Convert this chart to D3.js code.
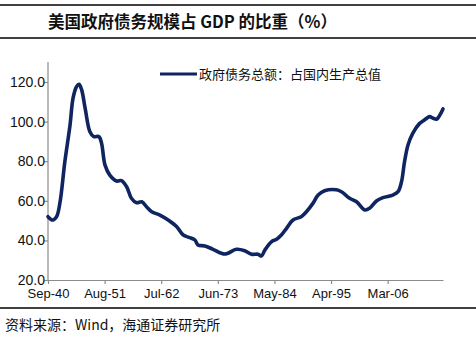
<!DOCTYPE html>
<html>
<head>
<meta charset="utf-8">
<script src="https://cdn.jsdelivr.net/npm/d3@7"></script>
<style>
  html, body { margin: 0; padding: 0; background: #fff; }
  svg { display: block; }
</style>
</head>
<body>
<svg id="chart" width="476" height="337"></svg>
<script>
// ---- data ----
const titleText = "美国政府债务规模占 GDP 的比重（%）";
const legendText = "政府债务总额：占国内生产总值";
const sourceText = "资料来源：Wind，海通证券研究所";

const dates = [
  "1940-09","1941-08","1942-05","1943-01","1943-12","1944-12","1945-07","1946-03","1946-09","1947-03",
  "1947-11","1948-10","1949-07","1950-07","1951-01","1951-09","1952-08","1953-12","1954-11","1955-11",
  "1956-10","1957-10","1958-10","1959-09","1960-09","1962-04","1963-11","1965-07","1966-10","1968-01",
  "1969-01","1969-08","1970-12","1972-07","1974-10","1977-01","1978-08","1979-12","1981-03","1981-11",
  "1982-07","1983-10","1984-10","1985-09","1986-09","1987-12","1989-07","1990-07","1991-10","1992-10",
  "1994-01","1996-04","1997-04","1998-11","2000-03","2001-10","2002-09","2004-01","2005-04","2007-03",
  "2008-03","2008-11","2009-06","2010-02","2011-01","2012-05","2013-04","2014-04","2014-12","2015-09",
  "2016-03","2016-11"
];
const debtToGdp = [
  52.0, 50.3, 52.0, 59.5, 79.7, 98.3, 111.8, 117.6, 118.8, 116.0,
  106.7, 94.9, 92.4, 92.4, 89.0, 78.0, 73.0, 70.0, 70.2, 67.1,
  61.3, 59.0, 59.5, 57.0, 54.5, 52.8, 50.3, 46.9, 42.7, 41.4,
  40.2, 37.7, 37.2, 35.5, 33.1, 35.5, 34.8, 33.0, 33.0, 32.1,
  35.2, 39.3, 40.6, 42.7, 46.1, 50.3, 52.0, 54.5, 58.7, 62.9,
  65.1, 65.6, 64.6, 61.3, 59.5, 55.4, 56.2, 59.9, 61.6, 62.9,
  64.6, 69.6, 79.7, 88.2, 94.1, 99.1, 100.8, 102.5, 101.7, 101.3,
  103.0, 106.4
];
const xTickLabels = ["Sep-40","Aug-51","Jul-62","Jun-73","May-84","Apr-95","Mar-06"];
const yTickValues = [20, 40, 60, 80, 100, 120];

// ---- drawing ----
const svg = d3.select("#chart");
const parseYM = d3.timeParse("%Y-%m");
const parseTick = d3.timeParse("%b-%y");
const fmtTick = d3.timeFormat("%b-%y");
const data = dates.map((d, i) => ({ date: parseYM(d), value: debtToGdp[i] }));
const tickDates = xTickLabels.map(s => {
  const d = parseTick(s);
  if (d.getFullYear() > 2030) d.setFullYear(d.getFullYear() - 100);
  return d;
});

const x = d3.scaleTime()
  .domain([parseYM("1940-09"), parseYM("2016-11")])
  .range([48, 443]);
const y = d3.scaleLinear().domain([20, 120]).range([280, 82]);

const sansLatin = "Arial, 'Liberation Sans', sans-serif";
const sansCJK = "'Noto Sans CJK SC', sans-serif";

// frame lines
[5, 38, 308].forEach(yy => {
  svg.append("line").attr("x1", 0).attr("x2", 476).attr("y1", yy).attr("y2", yy)
    .attr("stroke", "#000").attr("stroke-width", 1.3);
});

// title
svg.append("text").attr("x", 48).attr("y", 28)
  .attr("font-family", sansCJK).attr("font-weight", "bold").attr("font-size", 16.5)
  .attr("fill", "#111").text(titleText);

// y axis
const yAxis = d3.axisLeft(y).tickValues(yTickValues).tickSize(4).tickSizeOuter(0)
  .tickFormat(d3.format(".1f"));
const gy = svg.append("g").attr("transform", "translate(48,0)").call(yAxis);
gy.select(".domain").remove();
gy.append("line").attr("x1", 0).attr("x2", 0).attr("y1", 62).attr("y2", 280)
  .attr("stroke", "#8c8c8c").attr("stroke-width", 1.2);
gy.selectAll(".tick line").attr("stroke", "#8c8c8c").attr("stroke-width", 1.2);
gy.selectAll(".tick text").attr("font-family", sansLatin).attr("font-size", 14)
  .attr("fill", "#111").attr("x", -3);

// x axis
const xAxis = d3.axisBottom(x).tickValues(tickDates).tickSize(4).tickSizeOuter(0)
  .tickFormat(fmtTick);
const gx = svg.append("g").attr("transform", "translate(0,280)").call(xAxis);
gx.select(".domain").attr("stroke", "#8c8c8c").attr("stroke-width", 1.2);
gx.selectAll(".tick line").attr("stroke", "#8c8c8c").attr("stroke-width", 1.2);
gx.selectAll(".tick text").attr("font-family", sansLatin).attr("font-size", 13)
  .attr("fill", "#111").attr("y", 9);

// line
const line = d3.line().x(d => x(d.date)).y(d => y(d.value))
  .curve(d3.curveCatmullRom.alpha(0.5));
svg.append("path").datum(data).attr("d", line)
  .attr("fill", "none").attr("stroke", "#0f2560").attr("stroke-width", 3.6)
  .attr("stroke-linejoin", "round").attr("stroke-linecap", "round");

// legend
svg.append("line").attr("x1", 160).attr("x2", 197).attr("y1", 74).attr("y2", 74)
  .attr("stroke", "#0f2560").attr("stroke-width", 3.2);
svg.append("text").attr("x", 199).attr("y", 78.5)
  .attr("font-family", sansCJK).attr("font-size", 13).attr("fill", "#111")
  .text(legendText);

// source
svg.append("text").attr("x", 5).attr("y", 330)
  .attr("font-family", sansCJK).attr("font-size", 14).attr("fill", "#111")
  .text(sourceText);
</script>
</body>
</html>
